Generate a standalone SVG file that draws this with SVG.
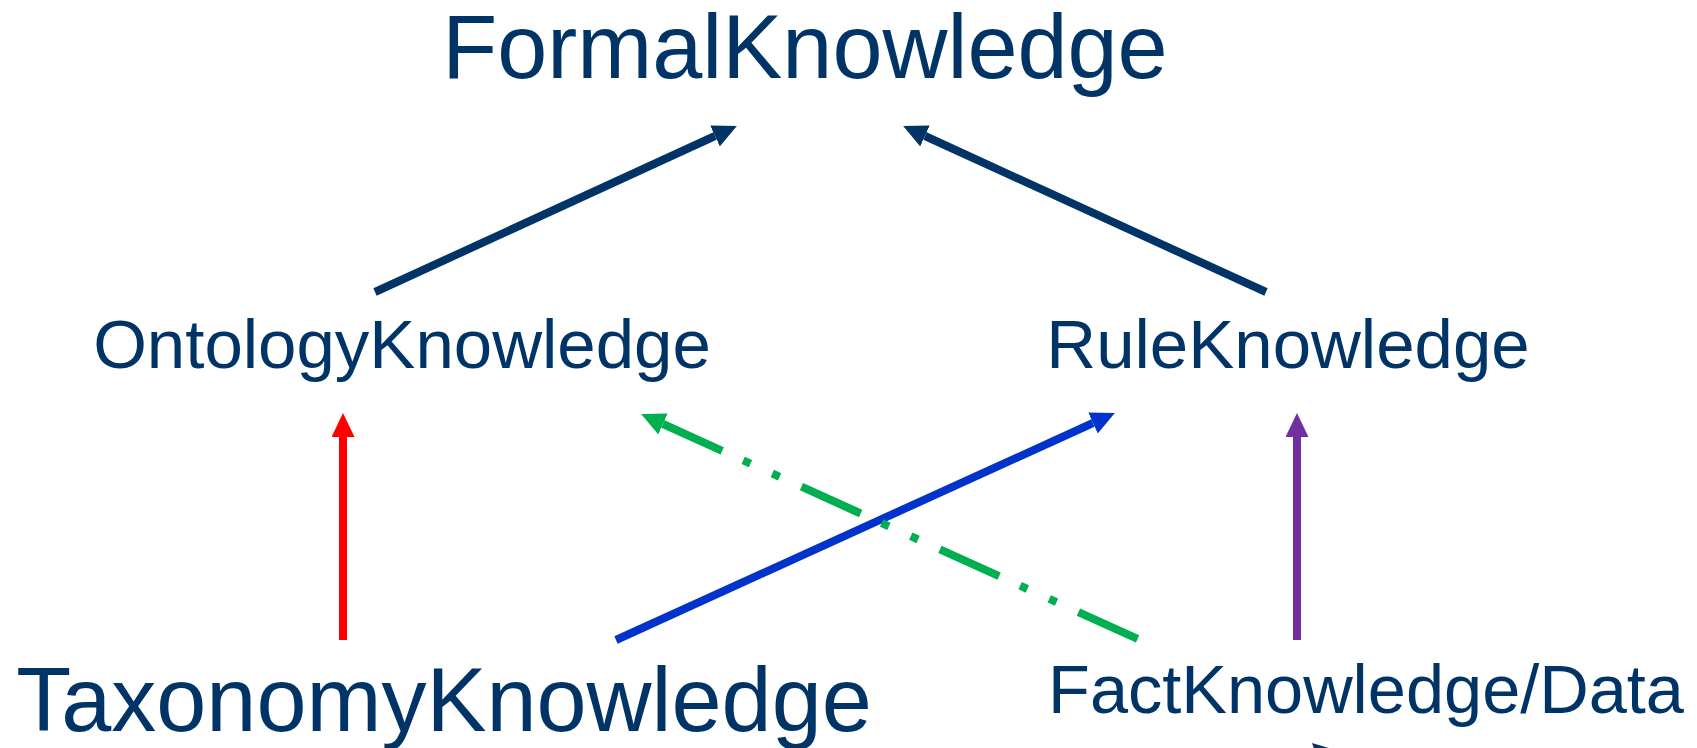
<svg xmlns="http://www.w3.org/2000/svg" width="1697" height="748" viewBox="0 0 1697 748">
<style>
  .lbl { font-family: "Liberation Sans", Arial, sans-serif; fill: #003366; text-anchor: middle; }
  .ln { fill: none; stroke-width: 8; stroke-linecap: butt; }
</style>
<defs>
  <marker id="hNavy" markerUnits="userSpaceOnUse" markerWidth="24" markerHeight="23" viewBox="0 0 24 23" refX="0" refY="11.5" orient="auto-start-reverse"><path d="M0,0 L24,11.5 L0,23 z" fill="#003366"/></marker>
  <marker id="hRed" markerUnits="userSpaceOnUse" markerWidth="24" markerHeight="23" viewBox="0 0 24 23" refX="0" refY="11.5" orient="auto-start-reverse"><path d="M0,0 L24,11.5 L0,23 z" fill="#FF0000"/></marker>
  <marker id="hBlue" markerUnits="userSpaceOnUse" markerWidth="24" markerHeight="23" viewBox="0 0 24 23" refX="0" refY="11.5" orient="auto-start-reverse"><path d="M0,0 L24,11.5 L0,23 z" fill="#0033CC"/></marker>
  <marker id="hGreen" markerUnits="userSpaceOnUse" markerWidth="24" markerHeight="23" viewBox="0 0 24 23" refX="0" refY="11.5" orient="auto-start-reverse"><path d="M0,0 L24,11.5 L0,23 z" fill="#00B050"/></marker>
  <marker id="hPurple" markerUnits="userSpaceOnUse" markerWidth="24" markerHeight="23" viewBox="0 0 24 23" refX="0" refY="11.5" orient="auto-start-reverse"><path d="M0,0 L24,11.5 L0,23 z" fill="#7030A0"/></marker>
</defs>
<rect width="1697" height="748" fill="#ffffff"/>
<g id="connectors">
  <path class="ln" d="M375,292 L715,136" stroke="#003366" marker-end="url(#hNavy)"/>
  <path class="ln" d="M1266,292 L925,136" stroke="#003366" marker-end="url(#hNavy)"/>
  <path class="ln" d="M343,640 L343,437" stroke="#FF0000" marker-end="url(#hRed)"/>
  <path class="ln" d="M1297,640 L1297,437" stroke="#7030A0" marker-end="url(#hPurple)"/>
  <path class="ln" d="M616,640 L1093,423" stroke="#0033CC" marker-end="url(#hBlue)"/>
  <path class="ln" d="M663,424 L1140,640" stroke="#00B050" stroke-dasharray="65 23 8 24 8 24" marker-start="url(#hGreen)"/>
  <polygon points="1312,743 1342,752 1318,760" fill="#003366"/>
</g>
<g id="node-formal"><text class="lbl" x="805" y="78" font-size="90">FormalKnowledge</text></g>
<g id="node-ontology"><text class="lbl" x="402" y="368" font-size="69">OntologyKnowledge</text></g>
<g id="node-rule"><text class="lbl" x="1288" y="368" font-size="69">RuleKnowledge</text></g>
<g id="node-taxonomy"><text class="lbl" x="444" y="731" font-size="90">TaxonomyKnowledge</text></g>
<g id="node-fact"><text class="lbl" x="1366" y="713" font-size="68.5">FactKnowledge/Data</text></g>
</svg>
